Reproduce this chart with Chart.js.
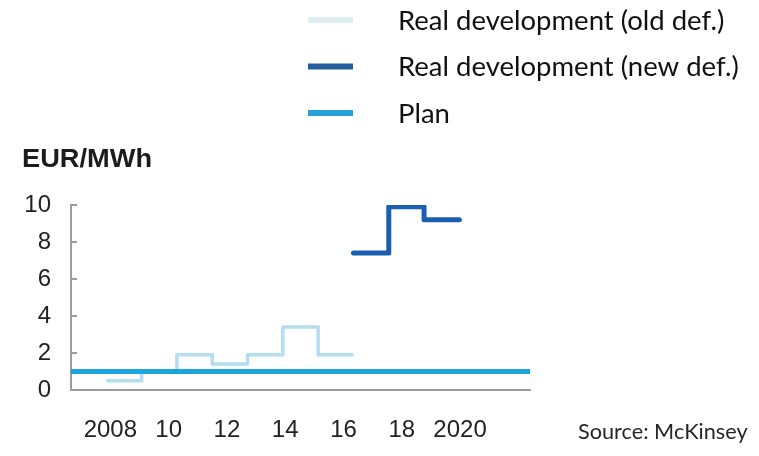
<!DOCTYPE html>
<html><head><meta charset="utf-8">
<script src="https://cdn.jsdelivr.net/npm/chart.js@4.4.0/dist/chart.umd.min.js"></script>
<style>html,body{margin:0;padding:0;background:#fff;}#wrap{position:relative;width:759px;height:456px;}</style>
</head><body><div id="wrap"><canvas id="c" width="759" height="456"></canvas></div>
<script>
// ---- data ----
const years = [2007, 2008, 2009, 2010, 2011, 2012, 2013, 2014, 2015, 2016, 2017, 2018, 2019];
const oldDef = [null, 0.5, 1.0, 1.9, 1.4, 1.9, 3.4, 1.9, null, null, null, null, null];
const newDef = [null, null, null, null, null, null, null, null, 7.4, 9.9, 9.2, null, null];
const plan   = [1.0, 1.0, 1.0, 1.0, 1.0, 1.0, 1.0, 1.0, 1.0, 1.0, 1.0, 1.0, 1.0];
const tickYears  = [2008, 2010, 2012, 2014, 2016, 2018, 2020];
const tickLabels = ['2008', '10', '12', '14', '16', '18', '2020'];
const seriesNames = ['Real development (old def.)', 'Real development (new def.)', 'Plan'];
const unitLabel = 'EUR/MWh';
const sourceText = 'Source: McKinsey';

// build step points (each value holds for its whole year)
function stepPoints(vals) {
  const pts = [];
  let last = null;
  for (let i = 0; i < vals.length; i++) {
    const v = vals[i];
    if (v !== null) { pts.push({x: years[i], y: v}); last = i; }
    else if (last !== null && last === i - 1) {
      pts.push({x: years[i], y: vals[last]});
      pts.push({x: years[i], y: null});
    }
  }
  if (last === vals.length - 1) pts.push({x: years[last] + 1, y: vals[last]});
  return pts;
}

const TXT = '#222222';
const AXIS = '#9c9c9c';

const extras = {
  id: 'extras',
  afterDraw(chart) {
    const ctx = chart.ctx;
    const ca = chart.chartArea;
    const ys = chart.scales.y;
    ctx.save();
    // inward y ticks
    ctx.strokeStyle = AXIS; ctx.lineWidth = 2;
    ys.ticks.forEach(t => {
      if (t.value <= 0) return;
      const py = Math.round(ys.getPixelForValue(t.value));
      ctx.beginPath(); ctx.moveTo(ca.left, py); ctx.lineTo(ca.left + 6, py); ctx.stroke();
    });
    // unit label (slightly wide, as in the source image)
    ctx.fillStyle = '#1c1c1c';
    ctx.font = 'bold 25px "Liberation Sans", Arial, sans-serif';
    ctx.textBaseline = 'alphabetic'; ctx.textAlign = 'left';
    ctx.save();
    ctx.translate(22, 167); ctx.scale(1.09, 1);
    ctx.fillText(unitLabel, 0, 0);
    ctx.restore();
    // legend
    ctx.font = '27.5px Lato, "Open Sans", sans-serif';
    ctx.textBaseline = 'middle';
    chart.data.datasets.forEach((ds, i) => {
      const y = 20 + i * 46.5;
      ctx.strokeStyle = ds.legendColor; ctx.lineWidth = 6; ctx.lineCap = 'butt';
      ctx.beginPath(); ctx.moveTo(308, y); ctx.lineTo(353, y); ctx.stroke();
      ctx.fillStyle = '#111111';
      ctx.fillText(ds.label, 398, y + 1);
    });
    // source
    ctx.font = '21.7px Lato, "Open Sans", sans-serif';
    ctx.fillStyle = '#262626';
    ctx.fillText(sourceText, 578, 432);
    ctx.restore();
  }
};

new Chart(document.getElementById('c'), {
  type: 'line',
  data: {
    datasets: [
      { label: seriesNames[0], data: stepPoints(oldDef), stepped: true, borderColor: '#b3def2', legendColor: '#dfedf3', borderWidth: 3.5, order: 2, borderJoinStyle: 'round' },
      { label: seriesNames[1], data: stepPoints(newDef), stepped: true, borderColor: '#1c5fb2', legendColor: '#265d9e', borderWidth: 5, order: 1, borderCapStyle: 'round', borderJoinStyle: 'round' },
      { label: seriesNames[2], data: stepPoints(plan), stepped: true, borderColor: '#1ba4dd', legendColor: '#27a2d8', borderWidth: 5, order: 0, borderCapStyle: 'round' }
    ]
  },
  options: {
    responsive: false,
    animation: false,
    layout: { padding: { left: 0, right: 229, top: 205, bottom: 0 } },
    plugins: { legend: { display: false }, tooltip: { enabled: false } },
    elements: { point: { radius: 0 }, line: { tension: 0 } },
    scales: {
      x: { type: 'linear', min: 2007, max: 2020, display: false },
      xl: {
        type: 'linear', axis: 'x', position: 'bottom', min: 2006.65, max: 2022.4,
        afterBuildTicks: s => { s.ticks = tickYears.map(v => ({ value: v })); },
        ticks: { callback: v => tickLabels[tickYears.indexOf(v)], autoSkip: false, maxRotation: 0,
                 font: { family: '"Liberation Sans", Arial, sans-serif', size: 24 }, color: TXT, padding: 26 },
        grid: { drawOnChartArea: false, drawTicks: false },
        border: { display: true, color: AXIS, width: 2 },
        afterFit: s => { s.height = 66; }
      },
      y: {
        min: 0, max: 10,
        ticks: { stepSize: 2, font: { family: '"Liberation Sans", Arial, sans-serif', size: 24 }, color: TXT, padding: 20 },
        grid: { drawOnChartArea: false, drawTicks: false },
        border: { display: true, color: AXIS, width: 2 },
        afterFit: s => { s.width = 71; }
      }
    }
  },
  plugins: [extras]
});
</script>
</body></html>
